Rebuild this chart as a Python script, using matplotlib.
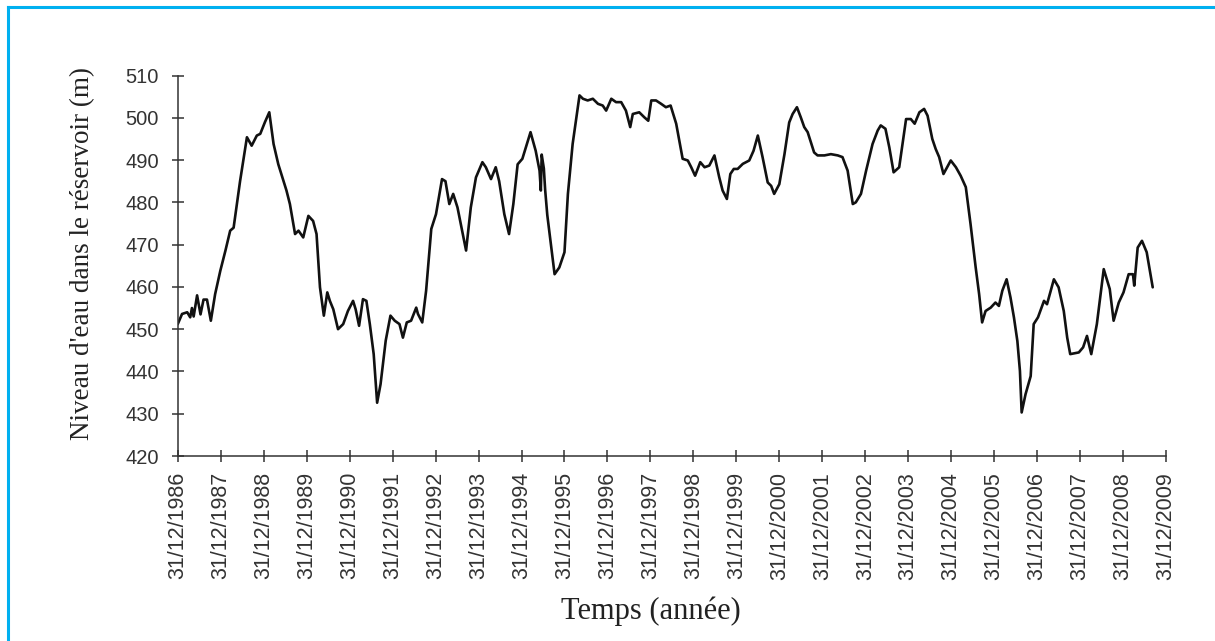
import matplotlib
matplotlib.use("Agg")
import matplotlib.pyplot as plt
from matplotlib.lines import Line2D

# Reservoir water level, time in years counted from 31/12/1986
years = [
    0.00, 0.10, 0.22, 0.29, 0.33, 0.37, 0.45, 0.53, 0.60, 0.68, 0.77, 0.87,
    0.99, 1.11, 1.22, 1.30, 1.45, 1.61, 1.72, 1.84, 1.92, 2.03, 2.13, 2.23,
    2.34, 2.53, 2.61, 2.73, 2.81, 2.92, 3.04, 3.15, 3.23, 3.31, 3.40, 3.48,
    3.54, 3.62, 3.73, 3.85, 3.96, 4.08, 4.14, 4.22, 4.31, 4.39, 4.47, 4.56,
    4.64, 4.72, 4.84, 4.95, 5.05, 5.16, 5.24, 5.33, 5.43, 5.55, 5.59, 5.69,
    5.78, 5.90, 6.01, 6.15, 6.23, 6.32, 6.41, 6.51, 6.71, 6.82, 6.94, 7.09,
    7.17, 7.29, 7.40, 7.48, 7.60, 7.71, 7.81, 7.91, 8.02, 8.21, 8.33, 8.42,
    8.45, 8.47, 8.52, 8.55, 8.60, 8.77, 8.88, 9.00, 9.08, 9.19, 9.35, 9.43,
    9.54, 9.66, 9.78, 9.89, 9.97, 10.09, 10.20, 10.32, 10.43, 10.53, 10.59,
    10.74, 10.86, 10.95, 11.02, 11.13, 11.25, 11.36, 11.47, 11.60, 11.75,
    11.87, 11.95, 12.04, 12.16, 12.26, 12.37, 12.49, 12.60, 12.68, 12.78,
    12.86, 12.94, 13.03, 13.15, 13.30, 13.40, 13.50, 13.61, 13.73, 13.81,
    13.88, 14.00, 14.12, 14.23, 14.31, 14.41, 14.50, 14.58, 14.66, 14.81,
    14.89, 15.05, 15.20, 15.36, 15.47, 15.59, 15.71, 15.78, 15.90, 16.02,
    16.17, 16.29, 16.36, 16.47, 16.56, 16.66, 16.79, 16.95, 17.06, 17.15,
    17.26, 17.37, 17.45, 17.56, 17.64, 17.72, 17.82, 17.99, 18.11, 18.22,
    18.34, 18.45, 18.57, 18.65, 18.72, 18.80, 18.92, 19.03, 19.11, 19.19,
    19.29, 19.38, 19.46, 19.54, 19.60, 19.64, 19.73, 19.85, 19.92, 20.02,
    20.16, 20.23, 20.39, 20.50, 20.62, 20.70, 20.77, 20.97, 21.07, 21.16,
    21.26, 21.39, 21.55, 21.69, 21.78, 21.90, 22.01, 22.13, 22.23, 22.26,
    22.34, 22.44, 22.55, 22.69,
]
level = [
    451.2, 453.6, 454.0, 452.8, 455.0, 453.0, 458.0, 453.5, 457.0, 457.0, 452.0, 458.3,
    463.8, 468.6, 473.3, 474.0, 485.0, 495.4, 493.4, 495.8, 496.2, 499.0, 501.3, 493.8,
    489.0, 482.8, 479.6, 472.5, 473.3, 471.7, 476.8, 475.6, 472.5, 459.9, 453.2, 458.7,
    456.7, 454.7, 450.0, 451.2, 454.3, 456.7, 454.7, 450.8, 457.1, 456.7, 451.2, 444.1,
    432.6, 437.0, 447.3, 453.2, 452.0, 451.2, 448.0, 451.6, 452.0, 455.1, 453.6, 451.6,
    459.1, 473.7, 477.2, 485.5, 485.0, 479.6, 482.0, 478.8, 468.6, 478.8, 485.9, 489.5,
    488.3, 485.5, 488.3, 485.0, 477.2, 472.5, 479.6, 489.0, 490.3, 496.6, 492.2, 487.5,
    482.8, 491.3, 488.0, 483.0, 477.0, 463.0, 464.6, 468.2, 482.0, 493.8, 505.3, 504.5,
    504.1, 504.5, 503.3, 502.9, 501.7, 504.5, 503.7, 503.7, 501.7, 497.8, 500.9,
    501.3, 500.1, 499.3, 504.1, 504.1, 503.3, 502.5, 502.9, 498.6, 490.3,
    489.9, 488.3, 486.3, 489.5, 488.3, 488.7, 491.1, 486.0, 482.8, 480.8,
    486.7, 487.9, 487.9, 489.1, 489.9, 492.2, 495.8, 490.7, 484.7, 483.9,
    482.0, 484.3, 491.4, 498.9, 500.9, 502.5, 500.1, 497.8, 496.6, 491.8,
    491.1, 491.1, 491.4, 491.1, 490.7, 487.5, 479.6, 480.0, 482.0, 487.5,
    493.8, 497.0, 498.2, 497.4, 493.0, 487.1, 488.3, 499.7, 499.7, 498.6,
    501.3, 502.1, 500.5, 495.0, 492.6, 490.7, 486.7, 489.9, 488.3, 486.3,
    483.6, 474.9, 464.6, 458.3, 451.6, 454.3, 455.1, 456.3, 455.5, 459.1,
    461.8, 457.5, 452.8, 447.2, 440.1, 430.3, 434.6, 438.9, 451.2, 452.8,
    456.7, 455.9, 461.8, 459.9, 454.3, 448.0, 444.1, 444.5, 445.7, 448.4,
    444.1, 451.2, 464.2, 459.5, 452.0, 456.3, 458.7, 463.0, 463.0, 460.3,
    469.3, 470.9, 468.2, 459.9,
]

tick_years = list(range(1986, 2010))
tick_labels = ["31/12/%d" % y for y in tick_years]
y_ticks = list(range(420, 511, 10))

fig = plt.figure(figsize=(12.15, 6.41), dpi=100)
ax = fig.add_axes([0.1463, 0.2886, 0.8134, 0.5936])

ax.plot(years, level, color="#111111", linewidth=1.9,
        solid_joinstyle="round", solid_capstyle="round")

ax.set_xlim(0, len(tick_years) - 1)
ax.set_ylim(420, 510)
ax.set_xticks(range(len(tick_years)))
ax.set_xticklabels(tick_labels, rotation=90, fontfamily="Liberation Sans",
                   fontsize=15.5, color="#333333")
ax.set_yticks(y_ticks)
ax.set_yticklabels([str(v) for v in y_ticks], fontfamily="Liberation Sans",
                   fontsize=14.5, color="#333333")

for side in ("top", "right"):
    ax.spines[side].set_visible(False)
for side in ("left", "bottom"):
    ax.spines[side].set_color("#333333")
    ax.spines[side].set_linewidth(1.1)
ax.tick_params(axis="both", direction="inout", length=9, width=1.1,
               color="#333333")
ax.tick_params(axis="x", pad=7)
ax.tick_params(axis="y", pad=9)

ax.set_ylabel("Niveau d'eau dans le réservoir (m)", fontfamily="Liberation Serif",
              fontsize=19.5, color="#222222")
ax.yaxis.set_label_coords(-0.084, 0.533)
ax.set_xlabel("Temps (année)", fontfamily="Liberation Serif", fontsize=22,
              color="#222222")
ax.xaxis.set_label_coords(0.479, -0.37)

# cyan frame along the top and left edges
frame = "#00B0F0"
fig.add_artist(Line2D([7.5 / 1215, 1.0], [1 - 7 / 641, 1 - 7 / 641],
                      transform=fig.transFigure, color=frame, linewidth=2.2))
fig.add_artist(Line2D([7.5 / 1215, 7.5 / 1215], [0.0, 1 - 7 / 641],
                      transform=fig.transFigure, color=frame, linewidth=2.2))

fig.savefig("out.png", dpi=100)
